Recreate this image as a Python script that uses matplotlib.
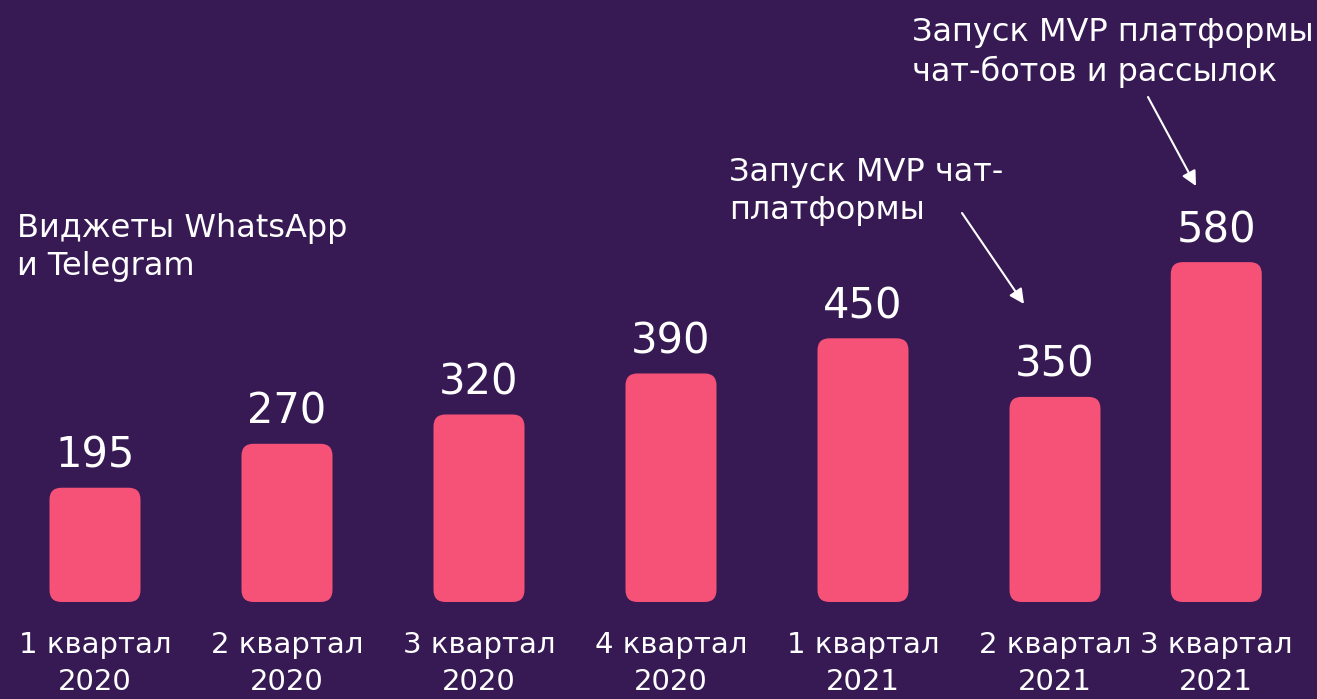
import matplotlib
matplotlib.use('Agg')
import matplotlib.pyplot as plt
from matplotlib.patches import FancyBboxPatch

# data
quarters = ['1 квартал\n2020', '2 квартал\n2020', '3 квартал\n2020', '4 квартал\n2020',
            '1 квартал\n2021', '2 квартал\n2021', '3 квартал\n2021']
users = [195, 270, 320, 390, 450, 350, 580]
notes = ['Виджеты WhatsApp\nи Telegram',
         'Запуск MVP чат-\nплатформы',
         'Запуск MVP платформы\nчат-ботов и рассылок']

bg = '#371a54'
bar_color = '#f65177'
plt.rcParams['font.family'] = ['DejaVu Sans']

W, H = 1317, 699
fig = plt.figure(figsize=(W / 100, H / 100), dpi=100, facecolor=bg)
ax = fig.add_axes([0, 0, 1, 1])
ax.set_facecolor(bg)

# layout: px per unit
x_px = 192.0
y_px = 0.586
x0_px, base_px = 95, 602
ax.set_xlim(-x0_px / x_px, (W - x0_px) / x_px)
ax.set_ylim(-(H - base_px) / y_px, base_px / y_px)
ax.axis('off')

xpos = [0, 1, 2, 3, 4, 5, 5.84]
width = 0.474
rad = 12 / x_px
aspect = x_px / y_px

for x, v, lab in zip(xpos, users, quarters):
    box = FancyBboxPatch((x - width / 2, 0), width, v,
                         boxstyle=f'round,pad=0,rounding_size={rad}',
                         mutation_aspect=aspect, fc=bar_color, ec='none')
    ax.add_patch(box)
    ax.annotate(str(v), (x, v), xytext=(0, 8), textcoords='offset points',
                ha='center', va='bottom', color='white', fontsize=30)
    ax.annotate(lab, (x, 0), xytext=(0, -21), textcoords='offset points',
                ha='center', va='top', color='white', fontsize=21,
                linespacing=1.38)

def fx(px):
    return px / W

def fy(py):
    return 1 - py / H

ax.text(fx(17), fy(213), notes[0], transform=ax.transAxes, ha='left', va='top',
        color='white', fontsize=23, linespacing=1.3)
ax.text(fx(729), fy(157), notes[1], transform=ax.transAxes, ha='left', va='top',
        color='white', fontsize=23, linespacing=1.3)
ax.text(fx(912), fy(17), notes[2], transform=ax.transAxes, ha='left', va='top',
        color='white', fontsize=23, linespacing=1.3)

arrow = dict(arrowstyle='-|>', color='white', lw=1.5, mutation_scale=22,
             shrinkA=0, shrinkB=0)
ax.annotate('', xy=(fx(1024), fy(304)), xytext=(fx(962), fy(213)),
            xycoords='axes fraction', textcoords='axes fraction', arrowprops=arrow)
ax.annotate('', xy=(fx(1196), fy(186)), xytext=(fx(1148), fy(97)),
            xycoords='axes fraction', textcoords='axes fraction', arrowprops=arrow)

fig.savefig('out.png', dpi=100, facecolor=bg)
